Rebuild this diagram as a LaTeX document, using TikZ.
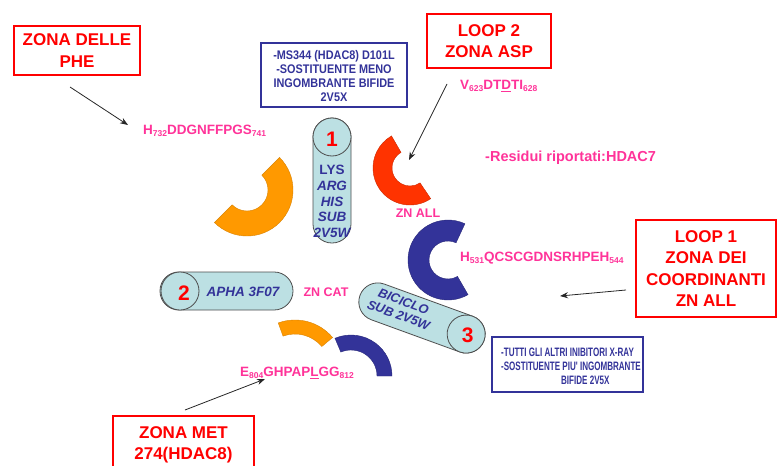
\documentclass[tikz,border=0pt]{standalone}
\usepackage{fontspec}
\setmainfont{Liberation Sans}
\newfontfamily\notefont[FakeStretch=0.87]{Liberation Sans}
\newfontfamily\notefontnarrow[FakeStretch=0.66]{Liberation Sans}
\usetikzlibrary{arrows.meta}

\definecolor{labelred}{HTML}{FF0000}
\definecolor{inkblue}{HTML}{333399}
\definecolor{seqpink}{HTML}{FF3399}
\definecolor{cylfill}{HTML}{BCE0E3}
\definecolor{cyledge}{HTML}{4D4D4D}
\definecolor{segorange}{HTML}{FF9900}
\definecolor{segred}{HTML}{FF3300}
\definecolor{segblue}{HTML}{333399}

\newcommand{\pxfont}[2]{\fontsize{#1}{#2}\selectfont}
\newcommand{\resnum}[1]{\raisebox{-2.5pt}{\pxfont{8.5}{9}#1}}
% thick circular band: style, centre, start angle, end angle, outer radius, inner radius
\newcommand{\bandarc}[6]{%
  \filldraw[#1] ([shift={#2}]#3:#5) arc (#3:#4:#5) -- ([shift={#2}]#4:#6) arc (#4:#3:#6) -- cycle;}

\begin{document}
\begin{tikzpicture}[x=1pt,y=-1pt,
  zonebox/.style={draw=labelred, line width=2.2pt, text=labelred, align=center,
     font=\bfseries\pxfont{17}{21.5}, inner sep=0pt},
  noteframe/.style={draw=inkblue, line width=2pt, inner sep=0pt},
  seq/.style={text=seqpink, font=\bfseries\pxfont{13.5}{15}, inner sep=0pt},
  zn/.style={text=seqpink, font=\bfseries\pxfont{12.5}{15}, inner sep=0pt},
  cyl/.style={fill=cylfill, draw=cyledge, line width=0.8pt},
  cyltext/.style={text=inkblue, font=\bfseries\itshape\pxfont{13.5}{15.6}, align=center, inner sep=0pt},
  cylnum/.style={text=labelred, font=\bfseries\pxfont{21}{21}, inner sep=0pt},
  pointer/.style={draw=black!85, line width=0.8pt, -{Stealth[length=8pt,width=6pt]}},
  orangeband/.style={fill=segorange, draw=segorange!85!black, line width=0.4pt},
  redband/.style={fill=segred, draw=segred!80!black, line width=0.4pt},
  blueband/.style={fill=segblue, draw=segblue!80!black, line width=0.4pt},
]
\useasboundingbox (0,0) rectangle (777,466);

% ---- labelled zones (red frames) ----
\node[zonebox, minimum width=126pt, minimum height=49pt] (phe) at (77,50.5) {ZONA DELLE\\PHE};
\node[zonebox, minimum width=124pt, minimum height=54pt] (loop2) at (489,41) {LOOP 2\\ZONA ASP};
\node[zonebox, minimum width=140pt, minimum height=97pt] (loop1) at (706,268.5) {LOOP 1\\ZONA DEI\\COORDINANTI\\ZN ALL};
\node[zonebox, minimum width=141pt, minimum height=58pt] (met) at (183.5,445) {ZONA MET\\274(HDAC8)};

% ---- notes (blue frames) ----
\node[noteframe, minimum width=146pt, minimum height=64pt] (noteA) at (334,75) {};
\node[text=inkblue, font=\notefont\bfseries\pxfont{12.5}{14}, align=center, inner sep=0pt] (noteAtext) at (334,76)
  {-MS344 (HDAC8) D101L\\-SOSTITUENTE MENO\\INGOMBRANTE BIFIDE\\2V5X};
\node[noteframe, minimum width=151pt, minimum height=55pt] (noteB) at (567.5,364.5) {};
\node[text=inkblue, font=\notefontnarrow\bfseries\pxfont{12.2}{13.8}, align=left, inner sep=0pt] (noteBtext) at (571,366)
  {-TUTTI GLI ALTRI INIBITORI X-RAY\\-SOSTITUENTE PIU' INGOMBRANTE\\\hspace*{60pt}BIFIDE 2V5X};

% ---- residue sequences ----
\node[seq, anchor=west] (seqPhe) at (143,131) {H\resnum{732}DDGNFFPGS\resnum{741}};
\node[seq, anchor=west] (seqAsp) at (460,86) {V\resnum{623}DT\underline{D}TI\resnum{628}};
\node[seq, anchor=west] (seqZn) at (460,258) {H\resnum{531}QCSCGDNSRHPEH\resnum{544}};
\node[seq, anchor=west] (seqMet) at (240,373) {E\resnum{804}GHPAP\underline{L}GG\resnum{812}};
\node[text=seqpink, font=\bfseries\pxfont{14.5}{16}, inner sep=0pt, anchor=west] (residui) at (485,158) {-Residui riportati:HDAC7};
\node[zn] (znall) at (418,213) {ZN ALL};
\node[zn] (zncat) at (326,292) {ZN CAT};

% ---- pocket segments ----
\bandarc{orangeband}{(247,190)}{-45}{135}{46}{21}
\bandarc{redband}{(410,168)}{56}{240}{37}{18}
\bandarc{blueband}{(448,260)}{60}{295}{40}{19}
\bandarc{orangeband}{(295,369)}{-110}{-40}{49}{35}
\bandarc{blueband}{(351,376)}{-113}{0}{41}{26}

% ---- cylinder 1 ----
\draw[cyl, rounded corners=18.9pt] (313,118) rectangle (351,243);
\draw[cyl] (332,137) circle (19);
\node[cylnum] (num1) at (332,139) {1};
\node[cyltext] (cyl1) at (332,201.5) {{\upshape LYS}\\ARG\\HIS\\SUB\\2V5W};

% ---- cylinder 2 ----
\draw[cyl, rounded corners=18.9pt] (160,272) rectangle (293,310);
\draw[cyl] (180,291) circle (19);
\node[cylnum] (num2) at (184,293) {2};
\node[cyltext] (cyl2) at (243,292) {APHA 3F07};

% ---- cylinder 3 ----
\begin{scope}[shift={(422,318)}, rotate=-20]
  \draw[cyl, rounded corners=18.9pt] (-66,-19) rectangle (66,19);
  \draw[cyl] (47,0) circle (19);
  \node[cylnum] (num3) at (49,1) {3};
  \node[cyltext, font=\bfseries\itshape\pxfont{12.8}{14.5}, rotate=-20] (cyl3) at (-23,-2) {BICICLO\\SUB 2V5W};
\end{scope}

% ---- pointers ----
\coordinate (pheTail) at (70,87);   \coordinate (pheHead) at (128,125);
\coordinate (aspTail) at (447,84);  \coordinate (aspHead) at (409,160);
\coordinate (znTail) at (626,290);  \coordinate (znHead) at (560,296);
\coordinate (metTail) at (185,410); \coordinate (metHead) at (265,379);
\draw[pointer] (pheTail) -- (pheHead);
\draw[pointer] (aspTail) -- (aspHead);
\draw[pointer] (znTail) -- (znHead);
\draw[pointer] (metTail) -- (metHead);
\end{tikzpicture}
\end{document}
